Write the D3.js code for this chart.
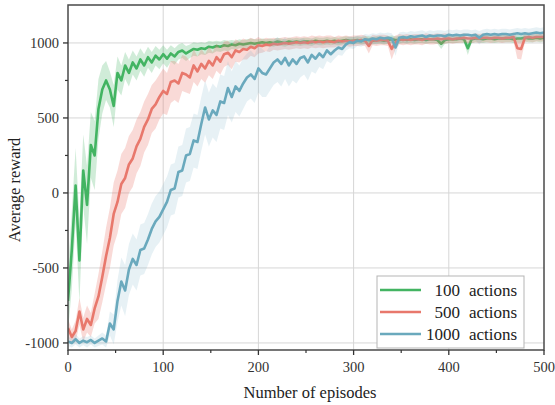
<!DOCTYPE html>
<html>
<head>
<meta charset="utf-8">
<script src="https://cdn.jsdelivr.net/npm/d3@7"></script>
<style>
  html, body { margin: 0; padding: 0; background: #fff; }
  text { font-family: "Liberation Serif", "Times New Roman", "DejaVu Serif", serif; }
  .tick-label { font-size: 14.5px; fill: #333; }
  .axis-title { font-size: 16.5px; fill: #222; }
  .legend-text { font-size: 17px; fill: #222; }
</style>
</head>
<body>
<svg id="chart"></svg>
<script>
"use strict";

// ── Data (episodes sampled every 4) ─────────────────────────────────────────
const episodes = d3.range(0, 501, 4);

const seriesNames = ["100", "500", "1000"];
const seriesColors = ["#43b462", "#e8786c", "#6aa9bd"];
const bandColors = ["rgba(67,180,98,0.25)", "rgba(232,120,108,0.27)", "rgba(120,175,200,0.18)"];

const greenMean = [
  -720,-380,50,-450,150,-80,320,250,560,690,
  750,690,580,800,750,850,800,870,830,890,
  850,905,870,915,890,925,895,930,910,940,
  950,930,945,960,955,965,960,975,970,980,
  975,985,980,990,985,995,990,995,1000,995,
  1000,1005,1000,1005,1000,1010,1005,1000,1010,1005,
  1010,1005,1010,1010,1005,1015,1010,1010,1015,1010,
  1015,1010,1015,1020,1015,1015,1020,1015,1020,1020,
  1015,1020,1020,1015,1020,1025,1020,1020,1025,1020,
  1025,1020,1025,1025,1020,1025,1025,1020,995,1020,
  1025,1025,1025,1030,1025,965,1025,1030,1030,1025,
  1030,1030,1025,1030,1030,1030,1030,1025,1030,1030,
  1035,1030,1030,1035,1030,1035
];
const greenSpread = [
  200,260,250,280,240,260,220,230,200,160,
  130,120,140,110,100,90,90,80,80,75,
  75,70,70,65,65,60,60,55,55,50,
  50,50,45,45,45,40,40,40,40,35,
  35,35,35,30,30,30,30,30,30,30,
  25,25,25,25,25,25,25,25,25,25,
  25,25,25,25,25,25,25,25,25,25,
  25,25,25,25,25,25,25,25,25,25,
  25,25,25,25,25,25,25,25,25,25,
  25,25,25,25,25,25,25,25,35,25,
  25,25,25,25,25,45,25,25,25,25,
  25,25,25,25,25,25,25,25,25,25,
  25,25,25,25,25,25
];

const redMean = [
  -900,-960,-920,-790,-910,-840,-880,-770,-690,-560,
  -420,-300,-140,-60,60,100,190,230,310,360,
  440,490,560,590,640,680,660,740,750,730,
  800,790,770,850,810,860,830,880,850,905,
  875,925,935,905,950,940,960,955,975,965,
  985,980,990,985,995,990,995,1000,995,1000,
  1005,1000,1005,1000,1010,1005,1010,1005,1010,1010,
  1005,1015,1010,1015,1010,1015,1015,1020,1015,980,
  1020,1015,1020,1020,1015,960,1005,1025,1020,1025,
  1020,1025,1025,1020,1030,1025,1025,1030,1025,1030,
  1030,1025,1030,1030,1035,1030,1030,1035,1030,1035,
  1035,1030,1035,1035,1030,1035,1035,1040,965,960,
  1035,1040,1035,1040,1040,1040
];
const redSpread = [
  60,50,70,90,80,90,80,100,150,170,
  190,200,210,210,200,200,190,190,180,180,
  170,170,160,160,150,150,140,140,130,130,
  120,120,110,110,100,100,95,95,90,90,
  85,85,80,80,75,70,70,65,60,60,
  55,45,45,45,40,40,40,40,40,40,
  40,40,40,40,40,40,40,40,40,40,
  35,35,35,35,35,35,35,35,35,50,
  35,35,35,35,35,70,45,35,35,35,
  35,35,35,35,35,35,35,35,35,35,
  30,30,30,30,30,30,30,30,30,30,
  30,30,30,30,30,30,30,30,70,70,
  30,30,30,30,30,30
];

const blueMean = [
  -990,-1000,-975,-1000,-985,-995,-980,-1000,-985,-970,
  -990,-870,-910,-720,-590,-650,-510,-440,-480,-380,
  -370,-310,-240,-190,-160,-110,-60,20,30,140,
  150,250,260,350,340,460,570,490,550,520,
  610,600,700,640,710,680,730,770,790,760,
  830,800,790,830,870,890,860,900,850,890,
  860,900,910,870,920,895,930,905,950,925,
  950,970,960,990,1005,1000,1015,1010,1025,1020,
  1030,1025,1035,1030,1035,1030,970,1035,1040,1035,
  1045,1040,1045,1050,1040,1050,1045,1050,1050,1045,
  1055,1050,1055,1050,1055,1055,1050,1055,1035,1055,
  1060,1055,1060,1055,1060,1060,1055,1060,1065,1060,
  1065,1060,1065,1070,1065,1070
];
const blueSpread = [
  30,30,35,30,30,35,30,30,35,40,
  40,80,100,140,160,170,170,170,170,170,
  170,170,170,170,170,170,170,170,170,170,
  170,180,180,180,180,180,180,180,180,180,
  180,180,180,170,170,170,170,160,160,160,
  160,160,150,150,150,150,150,140,140,140,
  130,130,120,120,110,100,90,80,70,60,
  55,50,45,40,40,40,35,35,35,35,
  35,35,35,35,35,35,55,35,35,35,
  35,35,35,35,35,35,35,35,35,35,
  35,35,35,35,35,35,35,35,45,35,
  35,35,35,35,35,35,35,35,35,35,
  35,35,35,35,35,35
];

const xTicks = [0, 100, 200, 300, 400, 500];
const xMinor = [50, 150, 250, 350, 450];
const yTicks = [-1000, -500, 0, 500, 1000];
const yMinor = [-750, -250, 250, 750];

// ── Layout ──────────────────────────────────────────────────────────────────
const totalW = 555, totalH = 405;
const plot = { left: 68, right: 544, top: 5, bottom: 350 };
const serif = "'Liberation Serif', 'Times New Roman', 'DejaVu Serif', serif";

const svg = d3.select("#chart").attr("width", totalW).attr("height", totalH)
  .style("display", "block");

const x = d3.scaleLinear().domain([0, 500]).range([plot.left, plot.right]);
const y = d3.scaleLinear().domain([-1047, 1253]).range([plot.bottom, plot.top]);

svg.append("defs").append("clipPath").attr("id", "plotClip")
  .append("rect")
  .attr("x", plot.left).attr("y", plot.top)
  .attr("width", plot.right - plot.left).attr("height", plot.bottom - plot.top);

// gridlines
svg.append("g").selectAll("line").data(xTicks.slice(1, -1)).join("line")
  .attr("x1", d => x(d)).attr("x2", d => x(d))
  .attr("y1", plot.top).attr("y2", plot.bottom)
  .attr("stroke", "#d6d6d6").attr("stroke-width", 1);
svg.append("g").selectAll("line").data(yTicks).join("line")
  .attr("x1", plot.left).attr("x2", plot.right)
  .attr("y1", d => y(d)).attr("y2", d => y(d))
  .attr("stroke", "#d6d6d6").attr("stroke-width", 1);

// ── Series ──────────────────────────────────────────────────────────────────
const series = [
  { mean: greenMean, spread: greenSpread },
  { mean: redMean, spread: redSpread },
  { mean: blueMean, spread: blueSpread }
];

const area = d3.area()
  .x((d, i) => x(episodes[i]))
  .y0(d => y(d.m - d.s))
  .y1(d => y(d.m + d.s));

const line = d3.line()
  .x((d, i) => x(episodes[i]))
  .y(d => y(d));

const gSeries = svg.append("g").attr("clip-path", "url(#plotClip)");

series.forEach((s, k) => {
  const pts = s.mean.map((m, i) => ({ m, s: s.spread[i] }));
  gSeries.append("path")
    .attr("d", area(pts))
    .attr("fill", bandColors[k]);
  gSeries.append("path")
    .attr("d", line(s.mean))
    .attr("fill", "none")
    .attr("stroke", seriesColors[k])
    .attr("stroke-width", 2.6)
    .attr("stroke-linejoin", "round");
});

// ── Frame & axes ────────────────────────────────────────────────────────────
svg.append("rect")
  .attr("x", plot.left).attr("y", plot.top)
  .attr("width", plot.right - plot.left).attr("height", plot.bottom - plot.top)
  .attr("fill", "none").attr("stroke", "#4a4a4a").attr("stroke-width", 1.5);

const axisG = svg.append("g");
axisG.selectAll("line.xt").data(xTicks).join("line").attr("class", "xt")
  .attr("x1", d => x(d)).attr("x2", d => x(d))
  .attr("y1", plot.bottom).attr("y2", plot.bottom + 5)
  .attr("stroke", "#333").attr("stroke-width", 1.3);
axisG.selectAll("line.xm").data(xMinor).join("line").attr("class", "xm")
  .attr("x1", d => x(d)).attr("x2", d => x(d))
  .attr("y1", plot.bottom).attr("y2", plot.bottom + 3)
  .attr("stroke", "#333").attr("stroke-width", 1.2);
axisG.selectAll("line.yt").data(yTicks).join("line").attr("class", "yt")
  .attr("x1", plot.left - 5).attr("x2", plot.left)
  .attr("y1", d => y(d)).attr("y2", d => y(d))
  .attr("stroke", "#333").attr("stroke-width", 1.3);
axisG.selectAll("line.ym").data(yMinor).join("line").attr("class", "ym")
  .attr("x1", plot.left - 3).attr("x2", plot.left)
  .attr("y1", d => y(d)).attr("y2", d => y(d))
  .attr("stroke", "#333").attr("stroke-width", 1.2);

axisG.selectAll("text.xl").data(xTicks).join("text")
  .attr("class", "tick-label xl")
  .attr("font-family", serif)
  .attr("x", d => x(d)).attr("y", plot.bottom + 22)
  .attr("text-anchor", "middle")
  .text(d => d);
axisG.selectAll("text.yl").data(yTicks).join("text")
  .attr("class", "tick-label yl")
  .attr("font-family", serif)
  .attr("x", plot.left - 9).attr("y", d => y(d) + 5)
  .attr("text-anchor", "end")
  .text(d => d);

svg.append("text").attr("class", "axis-title")
  .attr("font-family", serif)
  .attr("x", 310).attr("y", 398)
  .attr("text-anchor", "middle")
  .text("Number of episodes");
svg.append("text").attr("class", "axis-title")
  .attr("font-family", serif)
  .attr("transform", "translate(20,190) rotate(-90)")
  .attr("text-anchor", "middle")
  .text("Average reward");

// ── Legend ──────────────────────────────────────────────────────────────────
const leg = svg.append("g");
leg.append("rect")
  .attr("x", 377).attr("y", 276).attr("width", 147).attr("height", 72)
  .attr("fill", "#fff").attr("stroke", "#b5b5b5").attr("stroke-width", 1);

seriesNames.forEach((name, i) => {
  const cy = 290 + i * 22;
  leg.append("line")
    .attr("x1", 380).attr("x2", 421).attr("y1", cy).attr("y2", cy)
    .attr("stroke", seriesColors[i]).attr("stroke-width", 2.5);
  leg.append("text").attr("class", "legend-text")
    .attr("font-family", serif)
    .attr("x", 460).attr("y", cy + 6)
    .attr("text-anchor", "end")
    .text(name);
  leg.append("text").attr("class", "legend-text")
    .attr("font-family", serif)
    .attr("x", 469).attr("y", cy + 6)
    .text("actions");
});
</script>
</body>
</html>
